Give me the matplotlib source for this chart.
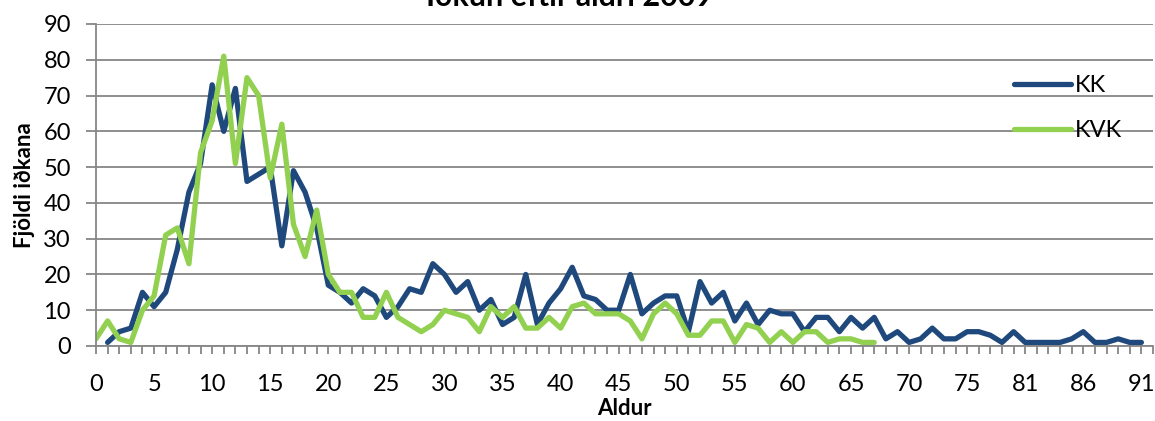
import numpy as np
import matplotlib
matplotlib.use("Agg")
import matplotlib.pyplot as plt

plt.rcParams['font.family'] = ['Lato', 'DejaVu Sans']

nan = np.nan

# aldur (one age between 76 and 80 is not in the source data)
ages = list(range(0, 79)) + list(range(80, 92))

kk = [nan, 1, 4, 5, 15, 11, 15, 27, 43, 51,
      73, 60, 72, 46, 48, 50, 28, 49, 43, 33,
      17, 15, 12, 16, 14, 8, 11, 16, 15, 23,
      20, 15, 18, 10, 13, 6, 8, 20, 6, 12,
      16, 22, 14, 13, 10, 10, 20, 9, 12, 14,
      14, 4, 18, 12, 15, 7, 12, 6, 10, 9,
      9, 4, 8, 8, 4, 8, 5, 8, 2, 4,
      1, 2, 5, 2, 2, 4, 4, 3, 1, 4,
      1, 1, 1, 1, 2, 4, 1, 1, 2, 1,
      1]

kvk = [2, 7, 2, 1, 10, 14, 31, 33, 23, 54,
       63, 81, 51, 75, 70, 47, 62, 34, 25, 38,
       20, 15, 15, 8, 8, 15, 8, 6, 4, 6,
       10, 9, 8, 4, 11, 8, 11, 5, 5, 8,
       5, 11, 12, 9, 9, 9, 7, 2, 9, 12,
       9, 3, 3, 7, 7, 1, 6, 5, 1, 4,
       1, 4, 4, 1, 2, 2, 1, 1]

W, H = 1155, 421
fig = plt.figure(figsize=(W / 100, H / 100), dpi=100)
ax = fig.add_axes([96 / W, (H - 346) / H, (1153 - 96) / W, (346 - 24) / H])

grey = '#868686'
x = np.arange(len(ages))
ax.plot(x, kk, color='#1f497d', lw=3.8, label='KK', solid_joinstyle='round', solid_capstyle='round')
ax.plot(x[:len(kvk)], kvk, color='#92d050', lw=3.8, label='KVK', solid_joinstyle='round', solid_capstyle='round')

ax.set_xlim(0, len(ages))
ax.set_ylim(0, 90)
ax.set_yticks(range(0, 91, 10))
ax.set_xticks(range(len(ages) + 1))
ax.set_xticklabels([str(ages[i]) if i % 5 == 0 and i < len(ages) else '' for i in range(len(ages) + 1)])
ax.grid(axis='y', color=grey, lw=1.3)
ax.set_axisbelow(True)
for s in ['top', 'right']:
    ax.spines[s].set_visible(False)
for s in ['left', 'bottom']:
    ax.spines[s].set_color(grey)
    ax.spines[s].set_linewidth(1.3)
ax.tick_params(axis='x', length=6, width=1.3, color=grey, labelsize=17, pad=14)
ax.tick_params(axis='y', length=7, width=1.3, color=grey, labelsize=17, pad=11)

ax.set_ylabel('Fjöldi iðkana', fontsize=16, fontweight='bold', labelpad=6)
ax.set_xlabel('Aldur', fontsize=16, fontweight='bold', labelpad=2)

# title sits partly above the top edge, as in the source image
fig.text(570 / W, 1 - 6 / H, 'Iðkun eftir aldri 2009', ha='center', va='baseline',
         fontsize=22, fontweight='bold')

ax.legend(loc='upper left', bbox_to_anchor=(993 / W, 1 - 54 / H), bbox_transform=fig.transFigure,
          frameon=False, fontsize=17, handlelength=2.4, handletextpad=0.15, labelspacing=1.0)

fig.savefig('out.png', dpi=100)
